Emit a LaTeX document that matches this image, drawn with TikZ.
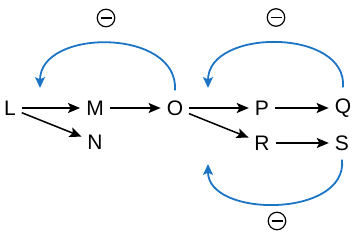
\documentclass[tikz,border=0pt]{standalone}
\usepackage{fontspec}
\setmainfont{Liberation Sans}
\usetikzlibrary{arrows.meta}
\definecolor{loopblue}{RGB}{28,117,196}
\begin{document}
\begin{tikzpicture}[x=1pt,y=-1pt,
  lab/.style={font=\fontsize{21}{24}\selectfont, inner sep=0pt, minimum width=12pt, minimum height=14pt},
  flow/.style={line width=1.5pt, -{Stealth[length=12pt,width=10pt,inset=2.5pt]}, shorten <=6pt, shorten >=6pt},
  loop/.style={line width=1.8pt, loopblue, -{Stealth[length=11pt,width=10pt,inset=2.5pt]}},
  neg/.style={circle, draw, line width=1.2pt, minimum size=17.5pt, inner sep=0pt,
    path picture={\draw[line width=1.4pt] ([xshift=-5.5pt]path picture bounding box.center) -- ([xshift=5.5pt]path picture bounding box.center);}}]
\useasboundingbox (0,0) rectangle (357,232);
\node[lab] (L) at (10,108) {L};
\node[lab] (M) at (95,108) {M};
\node[lab] (N) at (95,142) {N};
\node[lab] (O) at (175,108) {O};
\node[lab] (P) at (262,108) {P};
\node[lab] (Q) at (343,108) {Q};
\node[lab] (R) at (262,143) {R};
\node[lab] (S) at (342,143) {S};
\node[neg] (n1) at (106,18) {};
\node[neg] (n2) at (276,17.5) {};
\node[neg] (n3) at (277,221) {};
\draw[flow] (L) -- (M);
\draw[flow] (M) -- (O);
\draw[flow] (L) -- (N);
\draw[flow] (O) -- (P);
\draw[flow] (P) -- (Q);
\draw[flow] (O) -- (R);
\draw[flow] (R) -- (S);
\coordinate (lt) at (40,88);
\coordinate (rt) at (208,88);
\coordinate (bt) at (208,164);
\draw[loop] ([yshift=10pt]O.north) .. controls (179,28) and (40,28) .. (lt);
\draw[loop] ([yshift=11pt]Q.north) .. controls (348,28) and (208,28) .. (rt);
\draw[loop] ([yshift=-9pt]S.south) .. controls (348,218) and (208,218) .. (bt);
\end{tikzpicture}
\end{document}
